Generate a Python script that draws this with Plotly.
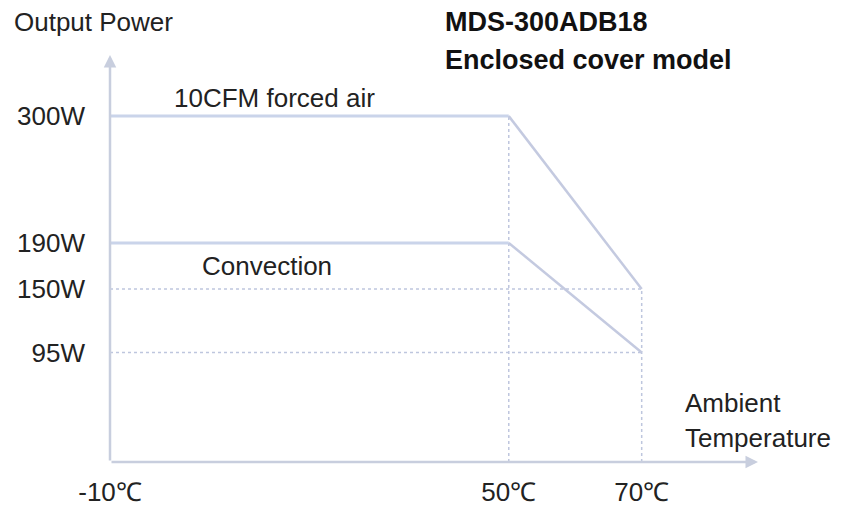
import plotly.graph_objects as go

# Data
temps = [-10, 50, 70]                 # ambient temperature, °C
forced_air_w = [300, 300, 150]        # 10CFM forced air, W
convection_w = [190, 190, 95]         # convection, W
x_ticks = [-10, 50, 70]
x_tick_labels = ["-10℃", "50℃", "70℃"]
y_ticks = [95, 150, 190, 300]
y_tick_labels = ["95W", "150W", "190W", "300W"]

FONT = "Liberation Sans, Arial, sans-serif"
LINE_COL = "rgb(202,212,234)"
DIAG_COL = "rgb(196,202,224)"
GUIDE_COL = "rgb(190,198,222)"
AXIS_COL = "rgb(200,206,222)"

x_min, x_max = -10, 87.5
y_min, y_max = 0, 353

fig = go.Figure()

guide = dict(color=GUIDE_COL, width=1.5, dash="dot")
fig.add_trace(go.Scatter(x=[temps[1], temps[1]], y=[y_min, forced_air_w[1]], mode="lines",
                         line=guide, hoverinfo="skip"))
fig.add_trace(go.Scatter(x=[temps[2], temps[2]], y=[y_min, forced_air_w[2]], mode="lines",
                         line=guide, hoverinfo="skip"))
fig.add_trace(go.Scatter(x=[temps[0], temps[2]], y=[forced_air_w[2], forced_air_w[2]], mode="lines",
                         line=guide, hoverinfo="skip"))
fig.add_trace(go.Scatter(x=[temps[0], temps[2]], y=[convection_w[2], convection_w[2]], mode="lines",
                         line=guide, hoverinfo="skip"))

for series in (forced_air_w, convection_w):
    fig.add_trace(go.Scatter(x=temps[:2], y=series[:2], mode="lines",
                             line=dict(color=LINE_COL, width=3), hoverinfo="skip"))
    fig.add_trace(go.Scatter(x=temps[1:], y=series[1:], mode="lines",
                             line=dict(color=DIAG_COL, width=2.5), hoverinfo="skip"))

# axes with arrows
fig.add_annotation(x=x_max, y=y_min, ax=x_min, ay=y_min, xref="x", yref="y", axref="x", ayref="y",
                   showarrow=True, arrowhead=2, arrowsize=1, arrowwidth=2.5, arrowcolor=AXIS_COL, text="")
fig.add_annotation(x=x_min, y=y_max, ax=x_min, ay=y_min, xref="x", yref="y", axref="x", ayref="y",
                   showarrow=True, arrowhead=2, arrowsize=1, arrowwidth=2.5, arrowcolor=AXIS_COL, text="")

txt = dict(family=FONT, size=26, color="#222")
bold = dict(family=FONT, size=27, color="#111")


def label(text, px, py, font, xanchor="left"):
    # px, py: paper coordinates
    fig.add_annotation(x=px, y=py, xref="paper", yref="paper", xanchor=xanchor, yanchor="middle",
                       text=text, showarrow=False, font=font)


label("Output Power", -0.151, 1.081, txt)
label("<b>MDS-300ADB18</b>", 0.514, 1.081, bold)
label("<b>Enclosed cover model</b>", 0.514, 0.988, bold)
label("Ambient", 0.884, 0.145, txt)
label("Temperature", 0.884, 0.059, txt)

fig.add_annotation(x=-0.7, xref="x", y=forced_air_w[0], yref="y", xanchor="left", yanchor="bottom",
                   text="10CFM forced air", showarrow=False, font=txt, yshift=1)
fig.add_annotation(x=3.5, xref="x", y=convection_w[0], yref="y", xanchor="left", yanchor="top",
                   text="Convection", showarrow=False, font=txt, yshift=-6)

# page body has an 8px margin, so the figure is sized/offset to fit the 847x509 window
fig.update_layout(
    width=839, height=501,
    margin=dict(l=102, r=89, t=47, b=47, autoexpand=False),
    paper_bgcolor="white", plot_bgcolor="white",
    showlegend=False,
    xaxis=dict(range=[x_min, x_max], tickvals=x_ticks, ticktext=x_tick_labels,
               showgrid=False, zeroline=False, showline=False, ticks="", automargin=False,
               tickfont=dict(family=FONT, size=26, color="#222"), ticklabelstandoff=12),
    yaxis=dict(range=[y_min, y_max], tickvals=y_ticks, ticktext=y_tick_labels,
               showgrid=False, zeroline=False, showline=False, ticks="", automargin=False,
               tickfont=dict(family=FONT, size=26, color="#222"), ticklabelstandoff=24),
)

fig.write_html("out.html")
